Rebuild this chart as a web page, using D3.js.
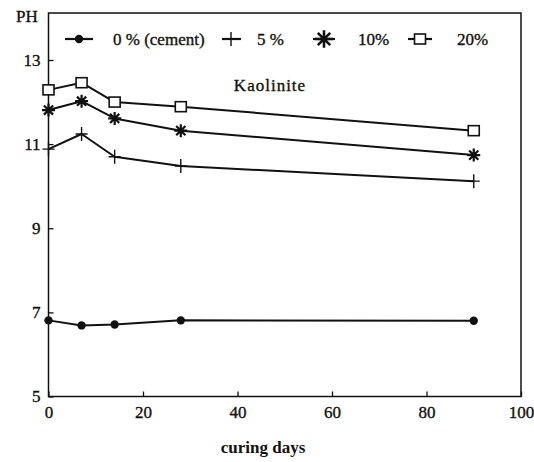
<!DOCTYPE html>
<html>
<head>
<meta charset="utf-8">
<script src="https://cdn.jsdelivr.net/npm/d3@7"></script>
<style>
  html, body { margin: 0; padding: 0; background: #fff; }
  svg { display: block; }
  svg text { font-family: "Liberation Serif", "Times New Roman", "DejaVu Serif", serif !important; fill: #111; }
</style>
</head>
<body>
<svg id="chart" width="534" height="462"></svg>
<script>
// ---- data ----
const curingDays = [0, 7, 14, 28, 90];
const ph0 = [6.81, 6.69, 6.71, 6.81, 6.80];
const ph5 = [10.88, 11.24, 10.70, 10.48, 10.12];
const ph10 = [11.81, 12.02, 11.61, 11.32, 10.74];
const ph20 = [12.29, 12.46, 12.00, 11.89, 11.32];
const seriesNames = ["0 % (cement)", "5 %", "10%", "20%"];
const seriesKeys = ["dot", "plus", "star", "square"];
const xTicks = [0, 20, 40, 60, 80, 100];
const yTicks = [5, 7, 9, 11, 13];

const seriesValues = [ph0, ph5, ph10, ph20];

const FONT = "'Liberation Serif', 'Times New Roman', 'DejaVu Serif', serif";
const W = 534, H = 462;
const margin = { top: 13, right: 13, bottom: 65.5, left: 48.5 };
const svg = d3.select("#chart");
svg.append("rect").attr("width", W).attr("height", H).attr("fill", "#fff");

const x = d3.scaleLinear().domain([0, 100]).range([margin.left, W - margin.right]);
const y = d3.scaleLinear().domain([5, 13]).range([H - margin.bottom, 60]);
const yTop = y.invert(margin.top);

// frame
svg.append("rect")
  .attr("x", x(0)).attr("y", y(yTop))
  .attr("width", x(100) - x(0)).attr("height", y(5) - y(yTop))
  .attr("fill", "none").attr("stroke", "#111").attr("stroke-width", 1.5);

// axes
const fs = 17;
const xAxis = svg.append("g")
  .attr("transform", `translate(0,${y(5)})`)
  .call(d3.axisBottom(x).tickValues(xTicks).tickSize(-5).tickPadding(9).tickFormat(d3.format("d")));
const yAxis = svg.append("g")
  .attr("transform", `translate(${x(0)},0)`)
  .call(d3.axisLeft(y).tickValues(yTicks).tickSize(-5).tickPadding(8).tickFormat(d3.format("d")));
[xAxis, yAxis].forEach(g => {
  g.attr("font-family", FONT).attr("font-size", fs);
  g.select(".domain").remove();
  g.selectAll(".tick line").attr("stroke", "#111").attr("stroke-width", 1.3);
  g.selectAll(".tick text").attr("font-size", fs).style("font-family", FONT).attr("fill", "#111")
    .attr("stroke", "#111").attr("stroke-width", 0.35);
});

function label(xp, yp, str, opts = {}) {
  const t = svg.append("text").attr("x", xp).attr("y", yp).attr("font-size", fs)
    .style("font-family", FONT).text(str);
  if (opts.anchor) t.attr("text-anchor", opts.anchor);
  if (opts.weight) t.attr("font-weight", opts.weight);
  else t.attr("stroke", "#111").attr("stroke-width", 0.35);
  if (opts.spacing) t.attr("letter-spacing", opts.spacing);
  return t;
}

// axis titles
label(16, 22, "PH");
label(263, 453, "curing days", { anchor: "middle", weight: "bold" });
label(270, 91, "Kaolinite", { anchor: "middle", spacing: 1 });

// marker drawing
function drawMarker(g, kind, cx, cy, scale = 1) {
  if (kind === "dot") {
    g.append("circle").attr("cx", cx).attr("cy", cy).attr("r", 4.2).attr("fill", "#111");
  } else if (kind === "plus") {
    g.append("path").attr("d", `M${cx - 6},${cy}H${cx + 6}M${cx},${cy - 7}V${cy + 7}`)
      .attr("stroke", "#111").attr("stroke-width", 1.4).attr("fill", "none");
  } else if (kind === "star") {
    const r = 6.5 * scale;
    let d = "";
    for (let i = 0; i < 4; i++) {
      const a = i * Math.PI / 4;
      d += `M${cx - r * Math.cos(a)},${cy - r * Math.sin(a)}L${cx + r * Math.cos(a)},${cy + r * Math.sin(a)}`;
    }
    g.append("path").attr("d", d).attr("stroke", "#111").attr("stroke-width", 2.2 * Math.sqrt(scale)).attr("fill", "none");
  } else if (kind === "square") {
    g.append("rect").attr("x", cx - 5.5).attr("y", cy - 5).attr("width", 11).attr("height", 10)
      .attr("fill", "#fff").attr("stroke", "#111").attr("stroke-width", 1.6);
  }
}

// series
const line = d3.line().x(d => x(d[0])).y(d => y(d[1]));
seriesValues.forEach((vals, i) => {
  const pts = curingDays.map((d, j) => [d, vals[j]]);
  const g = svg.append("g");
  g.append("path").attr("d", line(pts)).attr("fill", "none")
    .attr("stroke", "#111").attr("stroke-width", 2).attr("stroke-linejoin", "round");
  pts.forEach(p => drawMarker(g, seriesKeys[i], x(p[0]), y(p[1])));
});

// legend
const legendY = 39;
const legendItems = [
  { lineFrom: 65, lineTo: 93, mx: 79, tx: 113, s: 1 },
  { lineFrom: 222, lineTo: 241, mx: 231, tx: 257, s: 1 },
  { lineFrom: 313, lineTo: 335, mx: 324, tx: 358, s: 1.35 },
  { lineFrom: 408, lineTo: 432, mx: 420, tx: 457, s: 1 }
];
const lg = svg.append("g");
legendItems.forEach((it, i) => {
  lg.append("line").attr("x1", it.lineFrom).attr("x2", it.lineTo)
    .attr("y1", legendY).attr("y2", legendY).attr("stroke", "#111").attr("stroke-width", 2.2);
  drawMarker(lg, seriesKeys[i], it.mx, legendY, it.s);
  lg.append("text").attr("x", it.tx).attr("y", legendY + 6).attr("font-size", fs)
    .style("font-family", FONT).attr("stroke", "#111").attr("stroke-width", 0.35)
    .text(seriesNames[i]);
});
</script>
</body>
</html>
